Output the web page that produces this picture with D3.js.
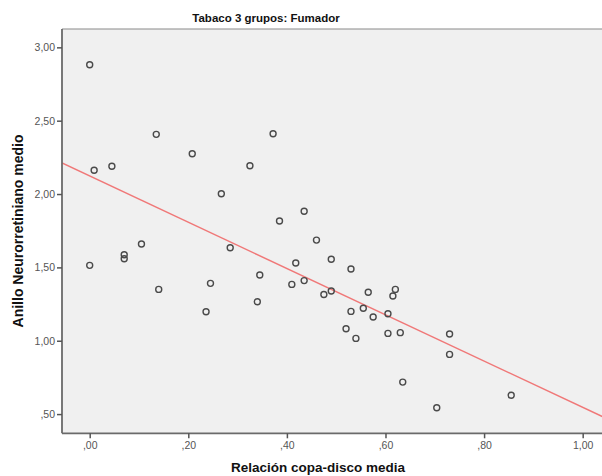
<!DOCTYPE html>
<html>
<head>
<meta charset="utf-8">
<script src="https://cdn.jsdelivr.net/npm/d3@7"></script>
<style>
  html, body { margin: 0; padding: 0; background: #ffffff; }
  svg { display: block; font-family: "Liberation Sans", Arial, sans-serif; }
</style>
</head>
<body>
<svg id="chart" width="602" height="476"></svg>
<script>
// Relación copa-disco media (x) vs Anillo Neurorretiniano medio (y), smokers group
const copaDisco = [
  0.000, 0.009, 0.045, 0.135, 0.208, 0.267, 0.325, 0.372, 0.385, 0.435, 0.460,
  0.105, 0.070, 0.070, 0.000, 0.140, 0.245, 0.236, 0.285, 0.345, 0.340,
  0.418, 0.410, 0.435, 0.475, 0.490, 0.530, 0.490, 0.565, 0.620, 0.615,
  0.530, 0.555, 0.575, 0.605, 0.520, 0.540, 0.605, 0.630, 0.730, 0.730,
  0.635, 0.704, 0.855
];
const anillo = [
  2.881, 2.162, 2.189, 2.407, 2.275, 2.002, 2.193, 2.411, 1.816, 1.883, 1.686,
  1.659, 1.586, 1.559, 1.514, 1.350, 1.391, 1.198, 1.634, 1.448, 1.266,
  1.530, 1.384, 1.410, 1.315, 1.555, 1.489, 1.339, 1.330, 1.350, 1.305,
  1.200, 1.221, 1.162, 1.184, 1.082, 1.016, 1.050, 1.055, 1.046, 0.907,
  0.718, 0.543, 0.628
];

// Linear fit: intercept and slope
const fitCoef = [2.123, -1.577];

const xTicks = [0, 0.2, 0.4, 0.6, 0.8, 1.0];
const xTickLabels = [",00", ",20", ",40", ",60", ",80", "1,00"];
const yTicks = [0.5, 1.0, 1.5, 2.0, 2.5, 3.0];
const yTickLabels = [",50", "1,00", "1,50", "2,00", "2,50", "3,00"];

const titleText = "Tabaco 3 grupos: Fumador";
const xTitle = "Relación copa-disco media";
const yTitle = "Anillo Neurorretiniano medio";

const svg = d3.select("#chart");

const plot = { left: 62, top: 29, right: 613, bottom: 433.3 };

const x = d3.scaleLinear().domain([-0.0562, 1.0615]).range([plot.left, plot.right]);
const y = d3.scaleLinear().domain([0.369, 3.125]).range([plot.bottom, plot.top]);

// plot background
svg.append("rect")
  .attr("x", plot.left).attr("y", plot.top)
  .attr("width", plot.right - plot.left).attr("height", plot.bottom - plot.top)
  .attr("fill", "#f0f0f0");

// top frame line
svg.append("line")
  .attr("x1", plot.left).attr("x2", plot.right)
  .attr("y1", plot.top).attr("y2", plot.top)
  .attr("stroke", "#8a8a8a").attr("stroke-width", 1.2);

svg.append("defs").append("clipPath").attr("id", "plotClip")
  .append("rect")
  .attr("x", plot.left).attr("y", plot.top)
  .attr("width", plot.right - plot.left).attr("height", plot.bottom - plot.top);

// fit line
const fitY = v => fitCoef[0] + fitCoef[1] * v;
const [xd0, xd1] = x.domain();
svg.append("line")
  .attr("clip-path", "url(#plotClip)")
  .attr("x1", x(xd0)).attr("y1", y(fitY(xd0)))
  .attr("x2", x(xd1)).attr("y2", y(fitY(xd1)))
  .attr("stroke", "#f07878").attr("stroke-width", 1.5);

// points
svg.append("g")
  .selectAll("circle")
  .data(d3.range(copaDisco.length))
  .join("circle")
  .attr("cx", i => x(copaDisco[i]))
  .attr("cy", i => y(anillo[i]))
  .attr("r", 3)
  .attr("fill", "none")
  .attr("stroke", "#4a4a4a")
  .attr("stroke-width", 1.4);

// axes
const xAxis = d3.axisBottom(x)
  .tickValues(xTicks)
  .tickFormat((d, i) => xTickLabels[i])
  .tickSizeInner(5).tickSizeOuter(0).tickPadding(3);
const yAxis = d3.axisLeft(y)
  .tickValues(yTicks)
  .tickFormat((d, i) => yTickLabels[i])
  .tickSizeInner(5).tickSizeOuter(0).tickPadding(2);

const gx = svg.append("g")
  .attr("transform", `translate(0,${plot.bottom})`)
  .call(xAxis);
const gy = svg.append("g")
  .attr("transform", `translate(${plot.left},0)`)
  .call(yAxis);

[gx, gy].forEach(g => {
  g.select(".domain").attr("stroke", "#6a6a6a").attr("stroke-width", 1.8);
  g.selectAll(".tick line").attr("stroke", "#555").attr("stroke-width", 1.5);
  g.selectAll(".tick text")
    .attr("fill", "#555")
    .style("font-size", "10.5px")
    .style("font-family", "'Liberation Sans', Arial, sans-serif");
});
gy.select(".domain").attr("d", `M0,${plot.top}V${plot.bottom}`);
gx.select(".domain").attr("d", `M${plot.left},0H${plot.right}`);

// titles
svg.append("text")
  .attr("x", 266).attr("y", 22)
  .attr("text-anchor", "middle")
  .style("font-size", "11.5px").style("font-weight", "bold")
  .attr("fill", "#111")
  .text(titleText);

svg.append("text")
  .attr("x", 318).attr("y", 472)
  .attr("text-anchor", "middle")
  .style("font-size", "13.5px").style("font-weight", "bold")
  .attr("fill", "#111")
  .text(xTitle);

svg.append("text")
  .attr("transform", "translate(23,231) rotate(-90)")
  .attr("text-anchor", "middle")
  .style("font-size", "14px").style("font-weight", "bold")
  .attr("fill", "#111")
  .text(yTitle);
</script>
</body>
</html>
